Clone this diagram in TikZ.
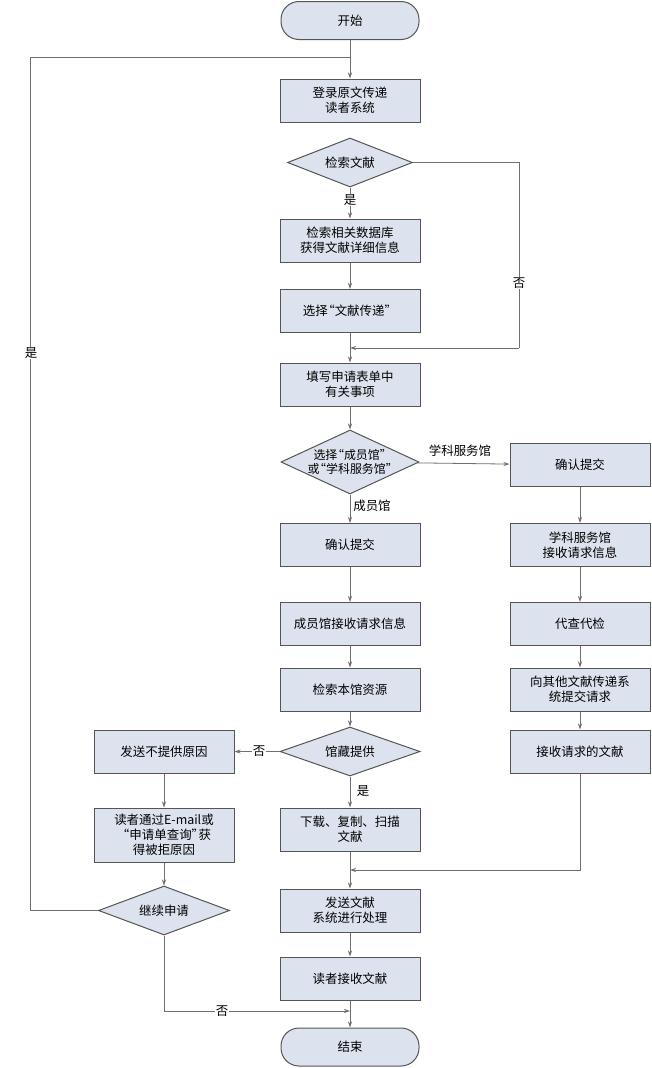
\documentclass[tikz,border=0pt]{standalone}
\usepackage{fontspec}
\newfontfamily\cjk{Noto Sans CJK SC}
\usetikzlibrary{shapes.geometric,arrows.meta}
\definecolor{boxfill}{HTML}{DDE3EE}
\definecolor{boxline}{HTML}{555555}
\definecolor{arrline}{HTML}{707070}
\newcommand\qL{\kern-0.45em“}
\newcommand\qR{”\kern-0.45em}

\begin{document}
\begin{tikzpicture}[x=1bp,y=-1bp,
    every node/.style={font=\cjk\fontsize{12.5}{15}\selectfont},
    box_node/.style={rectangle,draw=boxline,fill=boxfill,line width=1bp,minimum width=140bp,minimum height=43bp,align=center,inner sep=2pt},
    dia_node/.style={diamond,draw=boxline,fill=boxfill,line width=1bp,minimum width=#1,minimum height=49bp,inner sep=0pt},
    term_node/.style={rectangle,rounded corners=18bp,draw=boxline,fill=boxfill,line width=1bp,minimum width=138bp,minimum height=38bp},
    lbl/.style={fill=white,inner sep=1pt},
    arr/.style={draw=arrline,line width=0.8bp,-{Stealth[length=6bp,width=4bp]}},
    ln/.style={draw=arrline,line width=0.8bp}]
    \useasboundingbox[fill=white] (0,0) rectangle (652,1068);
    % main column
    \node[term_node] (0) at (350, 20.5) {开始};
    \node[box_node] (1) at (350, 100.5) {登录原文传递\\读者系统};
    \node[dia_node=125bp,label={center:检索文献}] (2) at (350, 162.5) {};
    \node[box_node] (3) at (350, 240.5) {检索相关数据库\\获得文献详细信息};
    \node[box_node] (4) at (350, 311) {选择\qL 文献传递”};
    \node[box_node] (5) at (350, 384.5) {填写申请表单中\\有关事项};
    \node[dia_node=138bp,minimum height=64bp,label={[align=center,font=\cjk\fontsize{12}{14.5}\selectfont]center:选择\qL 成员馆\qR\\或\qL 学科服务馆\qR}] (6) at (350, 462) {};
    \node[box_node] (7) at (350, 545) {确认提交};
    \node[box_node] (8) at (350, 624) {成员馆接收请求信息};
    \node[box_node] (9) at (350, 689.5) {检索本馆资源};
    \node[dia_node=140bp,label={center:馆藏提供}] (10) at (350, 751.5) {};
    \node[box_node] (12) at (350, 829.5) {下载、复制、扫描\\文献};
    \node[box_node] (15) at (350, 910.5) {发送文献\\系统进行处理};
    \node[box_node] (16) at (350, 978.5) {读者接收文献};
    \node[term_node] (17) at (350, 1047) {结束};
    % left column
    \node[box_node] (11) at (164, 751.5) {发送不提供原因};
    \node[box_node,minimum height=54bp] (13) at (164, 835) {读者通过E-mail或\\“申请单查询\qR 获\\得被拒原因};
    \node[dia_node=131bp,label={center:继续申请}] (14) at (164, 910.5) {};
    % right column
    \node[box_node] (r1) at (580, 465) {确认提交};
    \node[box_node] (r2) at (580, 545) {学科服务馆\\接收请求信息};
    \node[box_node] (r3) at (580, 624) {代查代检};
    \node[box_node] (r4) at (580, 689.5) {向其他文献传递系\\统提交请求};
    \node[box_node] (r5) at (580, 751.5) {接收请求的文献};
    % bends and joins
    \coordinate (j1) at (350, 57);
    \coordinate (c1) at (30, 57);
    \coordinate (c2) at (519, 348);
    \coordinate (j2) at (350, 348);
    \coordinate (j3) at (350, 870);
    \coordinate (j4) at (350, 1011);
    \draw[arr] (0) -- (1);
    \draw[ln] (14.west) -| (c1) -- (j1);
    \draw[arr] (2) -- (3);
    \draw[arr] (3) -- (4);
    \draw[arr] (4) -- (5);
    \draw[ln] (2.east) -| (c2);
    \draw[arr] (c2) -- (j2);
    \draw[arr] (5) -- (6);
    \draw[arr] (6) -- (r1);
    \draw[arr] (6) -- (7);
    \draw[arr] (7) -- (8);
    \draw[arr] (8) -- (9);
    \draw[arr] (9) -- (10);
    \draw[arr] (10) -- (11);
    \draw[arr] (10) -- (12);
    \draw[arr] (11) -- (13);
    \draw[arr] (13) -- (14);
    \draw[arr] (r1) -- (r2);
    \draw[arr] (r2) -- (r3);
    \draw[arr] (r3) -- (r4);
    \draw[arr] (r4) -- (r5);
    \draw[arr] (r5.south) |- (j3);
    \draw[arr] (12) -- (15);
    \draw[arr] (15) -- (16);
    \draw[arr] (16) -- (17);
    \draw[arr] (14.south) |- (j4);
    % labels
    \node[lbl] (y1) at (350, 200) {是};
    \node[lbl] (n1) at (519, 283) {否};
    \node[lbl] (y2) at (31, 353) {是};
    \node (t1) at (460, 451) {学科服务馆};
    \node (t2) at (372, 506) {成员馆};
    \node[lbl] (n2) at (259, 751.5) {否};
    \node (y3) at (363, 791) {是};
    \node[lbl] (n3) at (222, 1011) {否};
\end{tikzpicture}
\end{document}
